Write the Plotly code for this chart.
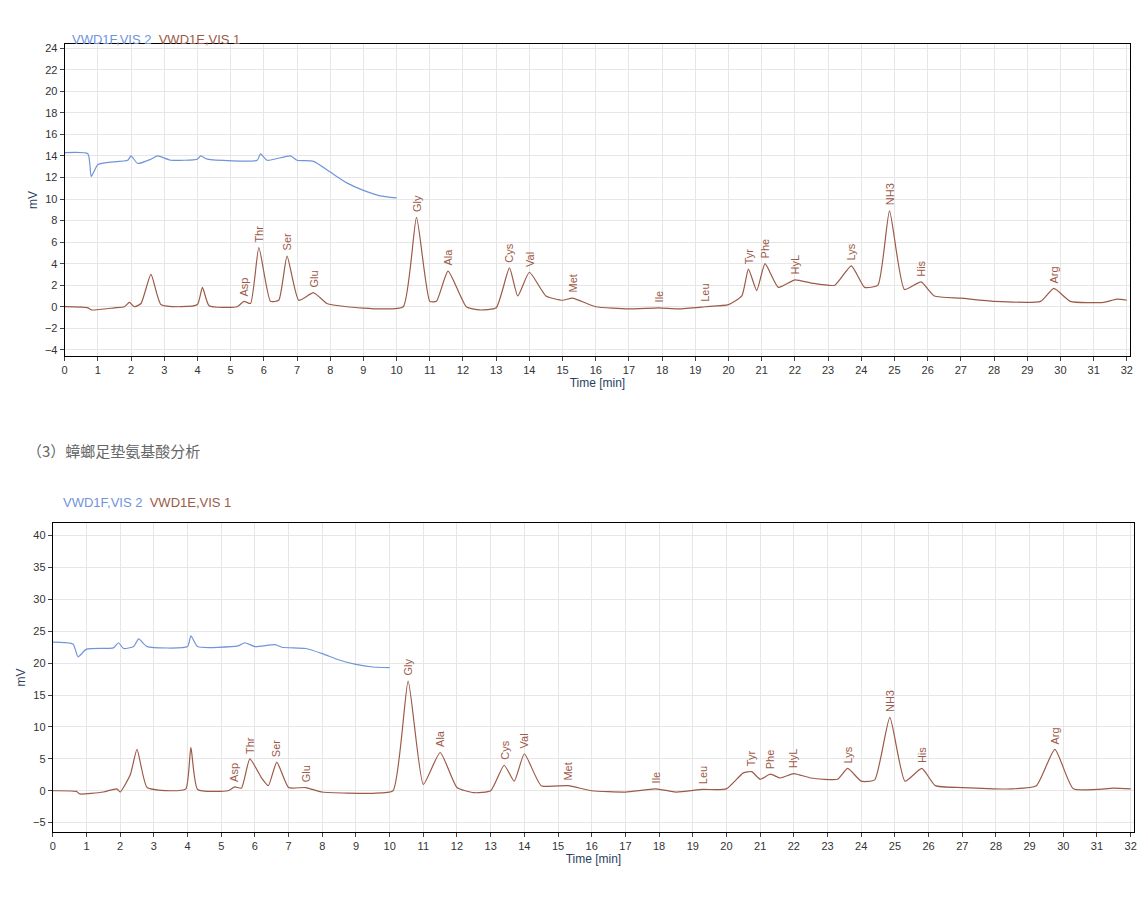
import plotly.graph_objects as go

# ---- Data ----
t1 = [0,0.7,0.8,1.5,1.8,1.95,2.1,2.3,2.6,2.9,3.5,4.0,4.15,4.35,5.2,5.4,5.6,5.85,6.2,6.45,6.7,7.05,7.5,7.9,8.5,9.5,10.2,10.6,11.0,11.2,11.55,12.1,12.5,13.0,13.4,13.65,14.0,14.5,15.0,15.3,16,17,17.9,18.5,19.3,20,20.4,20.6,20.85,21.1,21.5,22.0,22.5,23.2,23.7,24.1,24.5,24.85,25.3,25.8,26.2,27,28,29.4,29.8,30.3,31.3,31.7,32]
v1 = [0,-0.1,-0.3,-0.1,0,0.4,0,0.3,3.0,0.2,0,0.2,1.8,0.1,0,0.5,0.3,5.5,0.5,0.6,4.7,0.6,1.3,0.3,0,-0.2,0,8.3,0.5,0.5,3.3,0,-0.3,-0.1,3.6,1.0,3.2,1.0,0.6,0.8,0,-0.2,-0.1,-0.2,0,0.2,1.0,3.5,1.5,4.0,1.8,2.5,2.2,2.0,3.8,1.8,2.0,8.9,1.6,2.3,1.0,0.8,0.5,0.5,1.7,0.5,0.4,0.7,0.6]
tb1 = [0,0.7,0.8,1.0,1.3,1.9,2.0,2.2,2.6,2.8,3.2,4.0,4.1,4.3,5.8,5.9,6.1,6.8,7.0,7.5,8.0,8.5,9.0,9.5,10.0]
vb1 = [14.3,14.2,12.1,13.2,13.4,13.6,14.0,13.3,13.7,14.0,13.6,13.7,14.0,13.7,13.6,14.2,13.6,14.0,13.6,13.5,12.5,11.5,10.8,10.3,10.1]
lab1 = [("Asp",5.4,0.5),("Thr",5.85,5.5),("Ser",6.7,4.7),("Glu",7.5,1.3),("Gly",10.6,8.3),("Ala",11.55,3.3),
        ("Cys",13.4,3.6),("Val",14.0,3.2),("Met",15.3,0.8),("Ile",17.9,-0.1),("Leu",19.3,0),("Tyr",20.6,3.5),
        ("Phe",21.1,4.0),("HyL",22.0,2.5),("Lys",23.7,3.8),("NH3",24.85,8.9),("His",25.8,2.3),("Arg",29.8,1.7)]

t2 = [0,0.7,0.8,1.5,1.9,2.0,2.3,2.5,2.8,3.5,3.95,4.1,4.3,5.2,5.4,5.6,5.85,6.2,6.4,6.65,7.0,7.5,8,9.5,10.1,10.55,11.0,11.5,12.0,12.5,13.0,13.4,13.7,14.0,14.5,15.3,16,17,17.9,18.5,19.3,20,20.5,20.75,21.0,21.3,21.6,22.0,22.5,23.3,23.6,24.0,24.4,24.85,25.3,25.8,26.2,27.0,28.5,29.2,29.75,30.3,31.5,32]
v2 = [0,-0.1,-0.5,-0.2,0.3,-0.2,2.5,6.5,0.5,0,0.3,6.8,0.2,0,0.6,0.4,5.0,2.0,0.8,4.5,0.5,0.5,-0.2,-0.4,0,17.2,1.0,6.0,0.5,-0.3,0,4.0,1.5,5.8,0.8,0.8,0,-0.2,0.3,-0.2,0.2,0.3,2.8,3.0,1.8,2.6,2.0,2.7,2.0,1.8,3.5,1.5,1.7,11.5,1.5,3.5,0.8,0.5,0.3,0.8,6.5,0.3,0.4,0.3]
tb2 = [0,0.6,0.75,1.0,1.8,1.95,2.1,2.4,2.55,2.8,4.0,4.1,4.3,5.5,5.7,6.0,6.6,6.8,7.5,8.0,8.5,9.0,9.5,10]
vb2 = [23.3,23.0,21.0,22.2,22.4,23.2,22.3,22.6,23.8,22.6,22.6,24.3,22.6,22.7,23.2,22.6,22.9,22.5,22.3,21.5,20.5,19.8,19.4,19.3]
lab2 = [("Asp",5.4,0.6),("Thr",5.85,5.0),("Ser",6.65,4.5),("Glu",7.5,0.5),("Gly",10.55,17.2),("Ala",11.5,6.0),
        ("Cys",13.4,4.0),("Val",14.0,5.8),("Met",15.3,0.8),("Ile",17.9,0.3),("Leu",19.3,0.2),("Tyr",20.75,3.0),
        ("Phe",21.3,2.6),("HyL",22.0,2.7),("Lys",23.6,3.5),("NH3",24.85,11.5),("His",25.8,3.5),("Arg",29.75,6.5)]

brown = "#9c5a48"
blue = "#7094dc"
fig = go.Figure()
for xs, ys, col, xa, ya in [(tb1, vb1, blue, "x", "y"), (t1, v1, brown, "x", "y"),
                            (tb2, vb2, blue, "x2", "y2"), (t2, v2, brown, "x2", "y2")]:
    fig.add_trace(go.Scatter(x=xs, y=ys, mode="lines", line=dict(color=col, width=1.2, shape="spline", smoothing=0.5),
                             xaxis=xa, yaxis=ya, showlegend=False))

anns = []
for labs, xr, yr, off in [(lab1, "x", "y", 0.3), (lab2, "x2", "y2", 0.5)]:
    for name, x, y in labs:
        anns.append(dict(x=x, y=y + off, xref=xr, yref=yr, text=name, textangle=-90, showarrow=False,
                         yanchor="bottom", xanchor="center", font=dict(size=11, color=brown)))
for x0, yy in [(0.052, 0.978), (0.0436, 0.452)]:
    anns.append(dict(x=x0, y=yy, xref="paper", yref="paper", showarrow=False, xanchor="left",
                     text=f"<span style='color:{blue}'>VWD1F,VIS 2</span>  <span style='color:{brown}'>VWD1E,VIS 1</span>",
                     font=dict(size=13)))
anns.append(dict(x=0.012, y=0.51, xref="paper", yref="paper", showarrow=False, xanchor="left",
                 text="（3）蟑螂足垫氨基酸分析", font=dict(size=15, color="#666", family="Noto Sans CJK SC")))

ax = dict(showline=True, linecolor="black", mirror=True, ticks="outside", ticklen=4, gridcolor="#e6e6e6",
          zeroline=False, tickfont=dict(size=11, color="#333"))
fig.update_layout(
    width=1148, height=900, margin=dict(l=0, r=0, t=0, b=0), plot_bgcolor="white", paper_bgcolor="white",
    font=dict(family="Liberation Sans, Arial"),
    xaxis=dict(ax, domain=[0.047, 0.980], range=[0, 32.1], dtick=1, anchor="y",
               title=dict(text="Time [min]", font=dict(size=12), standoff=2)),
    yaxis=dict(ax, domain=[0.6144, 0.9622], range=[-4.6, 24.4], dtick=2, anchor="x",
               title=dict(text="mV", font=dict(size=12), standoff=4)),
    xaxis2=dict(ax, domain=[0.0366, 0.9834], range=[0, 32.1], dtick=1, anchor="y2",
                title=dict(text="Time [min]", font=dict(size=12), standoff=2)),
    yaxis2=dict(ax, domain=[0.0844, 0.4289], range=[-6.5, 42], dtick=5, anchor="x2",
                title=dict(text="mV", font=dict(size=12), standoff=4)),
    annotations=anns,
)
fig.write_html("out.html")
